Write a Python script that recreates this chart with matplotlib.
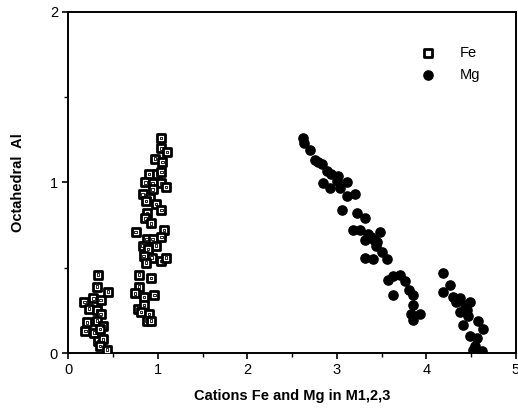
import numpy as np
import matplotlib
matplotlib.use("Agg")
import matplotlib.pyplot as plt
from matplotlib.ticker import MultipleLocator

# Fe cations in M1,2,3 vs octahedral Al
fe_x = [0.33, 0.32, 0.18, 0.28, 0.36, 0.44, 0.23, 0.32, 0.36, 0.21, 0.32, 0.39,
        0.19, 0.29, 0.35, 0.33, 0.39, 0.35, 0.43,
        1.035, 1.04, 1.10, 0.97, 1.05, 0.90, 0.99, 1.04, 0.86, 0.94, 1.035, 1.09,
        0.83, 0.94, 0.91, 0.87, 0.98, 1.04, 0.88, 0.86, 0.92, 0.75, 1.07, 0.875,
        0.94, 1.04, 0.83, 0.98, 0.89, 0.84, 0.93, 0.87, 1.035, 1.09, 0.79, 0.92,
        0.79, 0.745, 0.845, 0.96, 0.78, 0.845, 0.81, 0.90, 0.875, 0.92]
fe_y = [0.46, 0.39, 0.30, 0.32, 0.31, 0.36, 0.26, 0.25, 0.23, 0.18, 0.19, 0.16,
        0.13, 0.12, 0.14, 0.07, 0.08, 0.04, 0.02,
        1.26, 1.20, 1.18, 1.14, 1.12, 1.05, 1.05, 1.06, 1.00, 0.995, 0.995, 0.975,
        0.93, 0.96, 0.91, 0.89, 0.875, 0.84, 0.82, 0.79, 0.76, 0.71, 0.72, 0.67,
        0.67, 0.68, 0.63, 0.63, 0.61, 0.57, 0.56, 0.53, 0.54, 0.56, 0.46, 0.44,
        0.39, 0.35, 0.33, 0.34, 0.26, 0.28, 0.24, 0.23, 0.19, 0.19]

# Mg cations
mg_x = [2.62, 2.63, 2.70, 2.79, 2.83, 2.885, 2.93, 3.015, 3.11, 2.85, 2.92, 3.03,
        3.11, 3.20, 3.06, 3.22, 3.31, 3.18, 3.26, 3.35, 3.31, 3.41, 3.48, 3.44,
        3.50, 3.31, 3.40, 3.555, 3.57, 3.63, 3.70, 3.76, 3.63, 3.80, 3.85, 3.85,
        3.83, 3.93, 3.85, 3.38, 3.45, 2.75, 3.00,
        4.18, 4.26, 4.19, 4.30, 4.37, 4.49, 4.43, 4.37, 4.47, 4.41, 4.58, 4.63,
        4.49, 4.56, 4.54, 4.52, 4.62, 4.33, 4.45]
mg_y = [1.26, 1.23, 1.19, 1.12, 1.11, 1.07, 1.05, 1.04, 1.005, 0.995, 0.965, 0.965,
        0.92, 0.93, 0.84, 0.82, 0.79, 0.72, 0.72, 0.70, 0.66, 0.66, 0.71, 0.63,
        0.595, 0.56, 0.55, 0.55, 0.43, 0.45, 0.46, 0.42, 0.34, 0.37, 0.34, 0.28,
        0.23, 0.23, 0.195, 0.68, 0.65, 1.13, 1.01,
        0.47, 0.40, 0.36, 0.33, 0.32, 0.30, 0.28, 0.24, 0.22, 0.165, 0.185, 0.14,
        0.10, 0.09, 0.04, 0.02, 0.01, 0.30, 0.25]

plt.rcParams["font.family"] = ["Liberation Sans", "DejaVu Sans"]

fig = plt.figure(figsize=(5.18, 4.11), dpi=100)
ax = fig.add_axes([0.132, 0.141, 0.864, 0.830])

ax.scatter(fe_x, fe_y, marker="s", s=38, facecolor="white", edgecolor="black",
           linewidth=2.0, label="Fe", zorder=3)
ax.scatter(fe_x, fe_y, marker="s", s=3, facecolor="none", edgecolor="black",
           linewidth=0.6, zorder=4)
ax.scatter(mg_x, mg_y, marker="o", s=44, color="black", label="Mg", zorder=3)

ax.set_xlim(0, 5)
ax.set_ylim(0, 2)
ax.xaxis.set_major_locator(MultipleLocator(1))
ax.xaxis.set_minor_locator(MultipleLocator(0.5))
ax.yaxis.set_major_locator(MultipleLocator(1))
ax.yaxis.set_minor_locator(MultipleLocator(0.5))
ax.tick_params(which="major", direction="out", length=4, width=1.2, labelsize=10.5)
ax.tick_params(which="minor", direction="out", length=3, width=1.0)
for s in ax.spines.values():
    s.set_linewidth(1.4)

ax.set_xlabel("Cations Fe and Mg in M1,2,3", fontsize=10.5, fontweight="bold", labelpad=8)
ax.set_ylabel("Octahedral  Al", fontsize=10.5, fontweight="bold", labelpad=18)

ax.legend(loc="upper right", bbox_to_anchor=(0.95, 0.94), frameon=False,
          fontsize=10.5, handletextpad=1.2, labelspacing=0.6, scatterpoints=1)

fig.savefig("out.png", dpi=100)
